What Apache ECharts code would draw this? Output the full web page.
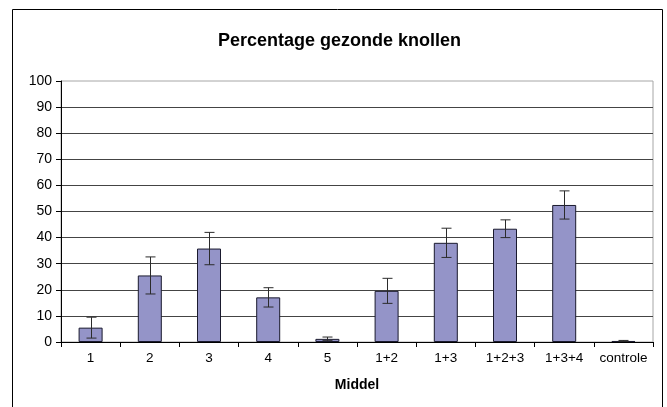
<!DOCTYPE html>
<html>
<head>
<meta charset="utf-8">
<script src="https://cdn.jsdelivr.net/npm/echarts@6/dist/echarts.min.js"></script>
<style>
  html, body { margin: 0; padding: 0; background: #fff; }
  #chart { width: 667px; height: 407px; }
</style>
</head>
<body>
<div id="chart"></div>
<script>
const categories = ['1', '2', '3', '4', '5', '1+2', '1+3', '1+2+3', '1+3+4', 'controle']
const values = [5.5, 25.5, 35.8, 17.1, 1.2, 19.6, 38.0, 43.4, 52.5, 0.4]
const errors = [4.0, 7.1, 6.2, 3.7, 0.7, 4.8, 5.6, 3.4, 5.4, 0.2]
const yTicks = [0, 10, 20, 30, 40, 50, 60, 70, 80, 90, 100]

const font = '"Liberation Sans", Arial, sans-serif'
const myChart = echarts.init(document.getElementById('chart'))

myChart.setOption({
  animation: false,
  title: {
    text: 'Percentage gezonde knollen',
    left: 213,
    top: 27,
    textStyle: { fontFamily: font, fontSize: 18, fontWeight: 'bold', color: '#000' }
  },
  grid: {
    left: 61, right: 14, top: 81, bottom: 65,
    show: true, borderColor: '#a6a6a6', borderWidth: 1, backgroundColor: '#fff'
  },
  graphic: [{
    type: 'rect',
    shape: { x: 12.5, y: 9.5, width: 650, height: 420 },
    style: { fill: 'none', stroke: '#000', lineWidth: 1 },
    silent: true, z: -1
  }],
  xAxis: {
    type: 'category',
    data: categories,
    name: 'Middel',
    nameLocation: 'middle',
    nameGap: 36,
    nameTextStyle: { fontFamily: font, fontSize: 14, fontWeight: 'bold', color: '#000' },
    axisLine: { lineStyle: { color: '#000', width: 1 } },
    axisTick: { show: true, length: 5, lineStyle: { color: '#000' } },
    axisLabel: { fontFamily: font, fontSize: 13.5, color: '#000', margin: 9, interval: 0, hideOverlap: false }
  },
  yAxis: {
    type: 'value',
    min: yTicks[0],
    max: yTicks[yTicks.length - 1],
    interval: 10,
    axisLine: { show: true, lineStyle: { color: '#000', width: 1 } },
    axisTick: { show: true, length: 5, lineStyle: { color: '#000' } },
    axisLabel: { fontFamily: font, fontSize: 14, color: '#000', margin: 9 },
    splitLine: { show: true, showMinLine: false, showMaxLine: false, lineStyle: { color: '#444', width: 1 } }
  },
  series: [
    {
      name: 'Percentage',
      type: 'bar',
      data: values,
      barWidth: 24,
      itemStyle: { color: '#9494c8', borderColor: '#1a1a2e', borderWidth: 1 }
    },
    {
      name: 'fout',
      type: 'custom',
      z: 5,
      data: values.map((v, i) => [i, v - errors[i], v + errors[i]]),
      renderItem: function (params, api) {
        const lo = api.coord([api.value(0), api.value(1)])
        const hi = api.coord([api.value(0), api.value(2)])
        const x = Math.round(lo[0]) + 0.5
        const half = 5
        const st = { stroke: '#2b2b2b', lineWidth: 1 }
        return {
          type: 'group',
          children: [
            { type: 'line', shape: { x1: x, y1: hi[1], x2: x, y2: lo[1] }, style: st },
            { type: 'line', shape: { x1: x - half, y1: hi[1], x2: x + half, y2: hi[1] }, style: st },
            { type: 'line', shape: { x1: x - half, y1: lo[1], x2: x + half, y2: lo[1] }, style: st }
          ]
        }
      }
    }
  ]
})
</script>
</body>
</html>
